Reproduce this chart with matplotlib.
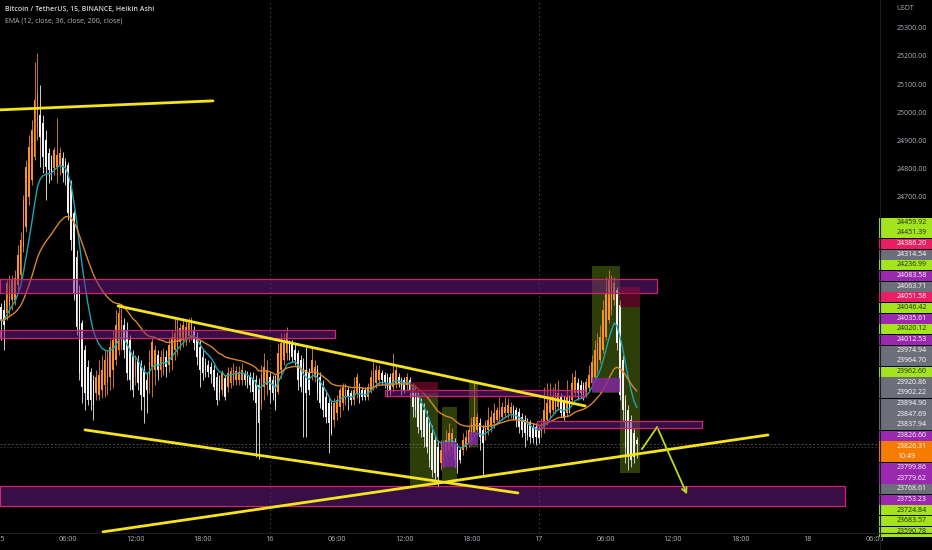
import matplotlib
matplotlib.use("Agg")
import matplotlib.pyplot as plt
from matplotlib.patches import Rectangle
from matplotlib.transforms import blended_transform_factory
import numpy as np
import pandas as pd

# ---------------- data (15-min Heikin Ashi bars, bar 0 = 15th 00:00) ----------------
ha_open = [
    24312, 24302, 24291, 24320, 24337, 24337, 24391, 24426, 24525, 24596,
    24703, 24763, 24845, 24930, 24994, 24966, 24905, 24859, 24834, 24806,
    24809, 24817, 24841, 24827, 24817, 24746, 24646, 24490, 24373, 24256,
    24160, 24099, 24082, 24053, 24007, 24000, 24018, 24036, 24043, 24064,
    24089, 24124, 24160, 24178, 24249, 24231, 24195, 24142, 24064, 24124,
    24107, 24089, 24053, 24071, 24099, 24089, 24142, 24089, 24099, 24135,
    24107, 24124, 24160, 24170, 24188, 24195, 24202, 24209, 24220, 24231,
    24206, 24170, 24135, 24114, 24107, 24099, 24089, 24064, 24053, 24018,
    24060, 24028, 24043, 24053, 24053, 24053, 24053, 24078, 24071, 24064,
    24060, 24053, 24036, 23968, 24028, 24036, 24064, 24053, 24053, 24010,
    24089, 24124, 24149, 24185, 24185, 24160, 24149, 24124, 24114, 24089,
    24078, 24078, 24064, 24089, 24064, 24028, 23993, 23972, 23957, 23911,
    23936, 23957, 23972, 23982, 24018, 24007, 23982, 24007, 24028, 24018,
    24018, 23993, 24018, 24028, 24043, 24053, 24078, 24071, 24064, 24064,
    24028, 24043, 24064, 24053, 24053, 24036, 24053, 24028, 24018, 23993,
    23972, 23947, 23922, 23901, 23865, 23840, 23815, 23759, 23769, 23794,
    23805, 23815, 23830, 23815, 23805, 23805, 23815, 23830, 23840, 23865,
    23876, 23901, 23876, 23865, 23876, 23886, 23901, 23911, 23922, 23922,
    23936, 23936, 23936, 23947, 23947, 23940, 23922, 23911, 23901, 23901,
    23886, 23886, 23876, 23865, 23886, 23911, 23936, 23947, 23950, 23957,
    23993, 23982, 23936, 23982, 23982, 24007, 24043, 24036, 24036, 24011,
    24025, 24043, 24064, 24089, 24124, 24160, 24206, 24266, 24302, 24337,
    24373, 24320, 24124, 23982, 23947, 23911, 23865, 23840,
]
ha_close = [
    24266, 24249, 24398, 24391, 24408, 24415, 24497, 24550, 24692, 24809,
    24880, 24941, 25047, 25072, 24916, 24845, 24809, 24799, 24788, 24870,
    24852, 24859, 24788, 24781, 24646, 24550, 24362, 24241, 24078, 24028,
    24007, 23982, 23982, 23964, 24064, 24071, 24089, 24124, 24135, 24170,
    24195, 24249, 24291, 24266, 24160, 24078, 24053, 24018, 24114, 24043,
    24000, 23993, 24018, 24117, 24188, 24160, 24089, 24135, 24149, 24099,
    24178, 24206, 24220, 24231, 24238, 24249, 24241, 24256, 24266, 24185,
    24135, 24089, 24078, 24089, 24082, 24075, 24028, 23982, 24007, 24078,
    23993, 24078, 24085, 24089, 24085, 24082, 24089, 24053, 24046, 24036,
    24011, 23972, 23901, 24071, 24099, 24089, 24018, 24007, 23957, 24150,
    24185, 24195, 24220, 24149, 24135, 24124, 24053, 24028, 23947, 24007,
    24018, 24124, 24099, 24007, 23972, 23947, 23922, 23901, 23865, 23972,
    23982, 24018, 24028, 24018, 23993, 23982, 24018, 24064, 23993, 23993,
    23993, 24028, 24064, 24078, 24089, 24089, 24053, 24043, 24028, 24018,
    24078, 24089, 24043, 24028, 24018, 24064, 24018, 23957, 23947, 23886,
    23876, 23851, 23815, 23769, 23734, 23723, 23709, 23805, 23830, 23840,
    23865, 23865, 23769, 23759, 23769, 23840, 23851, 23876, 23901, 23922,
    23922, 23851, 23830, 23901, 23911, 23922, 23936, 23947, 23947, 23957,
    23957, 23964, 23957, 23922, 23911, 23886, 23876, 23865, 23858, 23851,
    23847, 23851, 23847, 23901, 23947, 23972, 23982, 23993, 24007, 24007,
    23936, 23922, 23993, 23947, 24043, 24064, 24007, 24007, 24000, 24046,
    24071, 24117, 24160, 24185, 24206, 24302, 24362, 24408, 24408, 24398,
    24185, 24000, 23947, 23815, 23780, 23769, 23780, 23826,
]
ha_high = [
    24327, 24337, 24408, 24426, 24426, 24444, 24533, 24579, 24710, 24834,
    24923, 24976, 25182, 25214, 25101, 24994, 24941, 24877, 24852, 24880,
    24983, 24880, 24863, 24841, 24827, 24763, 24657, 24515, 24391, 24266,
    24178, 24124, 24096, 24071, 24089, 24124, 24142, 24160, 24160, 24195,
    24231, 24302, 24327, 24309, 24273, 24259, 24213, 24160, 24142, 24142,
    24124, 24107, 24082, 24160, 24206, 24178, 24160, 24160, 24167, 24160,
    24202, 24231, 24277, 24277, 24256, 24273, 24266, 24273, 24277, 24245,
    24224, 24195, 24160, 24131, 24124, 24117, 24107, 24082, 24071, 24089,
    24071, 24099, 24099, 24114, 24103, 24103, 24114, 24089, 24085, 24082,
    24082, 24071, 24060, 24107, 24149, 24124, 24082, 24071, 24071, 24185,
    24220, 24220, 24241, 24195, 24195, 24185, 24160, 24142, 24131, 24170,
    24096, 24170, 24124, 24107, 24082, 24053, 24018, 23989, 23982, 23989,
    24000, 24028, 24043, 24043, 24028, 24018, 24064, 24078, 24043, 24028,
    24028, 24043, 24089, 24117, 24107, 24107, 24089, 24082, 24078, 24078,
    24149, 24107, 24078, 24064, 24064, 24078, 24064, 24043, 24036, 24018,
    23989, 23972, 23947, 23918, 23894, 23858, 23840, 23840, 23840, 23876,
    23901, 23883, 23847, 23830, 23815, 23865, 23876, 23886, 23922, 24043,
    23936, 23918, 23894, 23911, 23957, 23947, 23972, 23957, 23993, 23975,
    23993, 23989, 23975, 23964, 23957, 23954, 23936, 23929, 23918, 23911,
    23901, 23901, 23894, 23918, 24028, 24043, 24043, 24028, 24043, 24053,
    24007, 24000, 24053, 24000, 24078, 24089, 24060, 24053, 24046, 24060,
    24107, 24142, 24195, 24220, 24249, 24337, 24419, 24444, 24426, 24419,
    24383, 24337, 24142, 24000, 23964, 23929, 23883, 23851,
]
ha_low = [
    24195, 24160, 24266, 24284, 24302, 24320, 24373, 24401, 24508, 24579,
    24675, 24746, 24834, 24905, 24809, 24788, 24692, 24753, 24763, 24781,
    24753, 24781, 24756, 24746, 24621, 24515, 24337, 24213, 24053, 23972,
    23947, 23964, 23947, 23911, 23982, 23982, 23989, 23993, 24000, 24018,
    24025, 24107, 24142, 24160, 24131, 24053, 24018, 23993, 24036, 24018,
    23947, 23901, 23936, 24007, 23993, 24036, 24053, 24064, 24071, 24064,
    24082, 24089, 24124, 24142, 24160, 24170, 24178, 24188, 24195, 24160,
    24107, 24028, 24053, 24064, 24064, 24043, 24018, 23964, 23982, 24000,
    23982, 24011, 24025, 24036, 24036, 24036, 24036, 24036, 24025, 24011,
    23982, 23780, 23773, 23950, 23982, 24000, 23972, 23982, 23947, 24005,
    24060, 24107, 24124, 24124, 24117, 24107, 24018, 24011, 23851, 23851,
    24000, 24053, 24046, 23982, 23954, 23922, 23901, 23794, 23858, 23886,
    23911, 23922, 23947, 23964, 23947, 23964, 23964, 23989, 23972, 23982,
    23982, 23982, 24007, 24018, 24025, 24036, 24036, 24025, 23993, 24000,
    24011, 24025, 24028, 24000, 24007, 24018, 23993, 23922, 23922, 23865,
    23851, 23815, 23794, 23744, 23709, 23688, 23673, 23734, 23744, 23769,
    23780, 23787, 23744, 23723, 23759, 23787, 23805, 23815, 23823, 23851,
    23858, 23805, 23716, 23840, 23858, 23869, 23883, 23894, 23904, 23911,
    23918, 23918, 23918, 23911, 23886, 23865, 23851, 23815, 23840, 23830,
    23830, 23823, 23830, 23851, 23865, 23894, 23918, 23936, 23936, 23947,
    23922, 23911, 23922, 23936, 23972, 23993, 23982, 23989, 23982, 23993,
    24011, 24036, 24053, 24078, 24114, 24149, 24195, 24256, 24284, 24320,
    24160, 23982, 23911, 23759, 23734, 23744, 23759, 23776,
]
last_price = 23826.31

# time axis
time_ticks = [0, 24, 48, 72, 96, 120, 144, 168, 192, 216, 240, 264, 288, 312]
time_labels = ["15", "06:00", "12:00", "18:00", "16", "06:00", "12:00", "18:00",
               "17", "06:00", "12:00", "18:00", "18", "06:00"]
price_ticks = [25300, 25200, 25100, 25000, 24900, 24800, 24700]

# right-hand price labels (stacked)
label_values = ["24459.92", "24451.39", "24386.20", "24314.54", "24236.99", "24083.58",
                "24063.71", "24051.58", "24046.42", "24035.61", "24020.12", "24012.53",
                "23974.94", "23964.70", "23962.60", "23920.86", "23902.22", "23894.90",
                "23847.69", "23837.94", "23826.60", "23826.31", "23799.86", "23779.62",
                "23768.61", "23753.23", "23724.84", "23683.57", "23590.78"]
label_kinds = ["g", "g", "r", "k", "g", "p", "k", "r", "g", "p", "g", "p",
               "k", "k", "g", "k", "k", "k", "k", "k", "p", "o", "p", "p",
               "k", "p", "g", "g", "g"]
countdown = "10:49"

# drawings: trend lines (bar, price)
trend_lines = [
    ((-0.4, 25012), (75.7, 25044)),
    ((41.8, 24316), (208.6, 23961)),
    ((30.0, 23876), (184.6, 23652)),
    ((36.4, 23514), (273.9, 23858)),
]
arrow_path_x = [228.9, 234.3, 245.4]
arrow_path_y = [23808, 23886, 23638]

# rectangles: (bar0, bar1, price_low, price_high, kind)
rects = [
    (-0.4, 234.3, 24362, 24412, "zone"),
    (-0.4, 119.3, 24202, 24231, "zone"),
    (137.1, 208.6, 23996, 24018, "zone"),
    (191.5, 250.4, 23883, 23908, "zone"),
    (-0.4, 301.4, 23606, 23677, "zone"),
    (211.0, 221.0, 24007, 24458, "green"),
    (211.0, 221.0, 24011, 24060, "purple"),
    (221.0, 228.2, 24312, 24383, "red"),
    (221.0, 228.2, 23723, 24312, "green"),
    (146.0, 156.0, 23680, 24007, "green"),
    (146.0, 156.0, 24007, 24046, "red"),
    (157.5, 162.9, 23698, 23957, "green"),
    (157.5, 162.9, 23744, 23833, "purple"),
    (167.1, 170.4, 23815, 24046, "green"),
    (167.1, 170.4, 23823, 23869, "purple"),
]

# ---------------- styling ----------------
BG = "#000000"
UP = "#f7931e"
DOWN = "#f2f2f2"
TEAL = "#1fa3b4"
EMA_OR = "#d6862b"
YELLOW = "#f4e41c"
ARROW = "#b6dc1f"
TXT = "#b2b5be"
FONT = ["Open Sans", "DejaVu Sans"]
plt.rcParams["font.family"] = FONT

W, H = 932, 550
fig = plt.figure(figsize=(W / 100, H / 100), dpi=100, facecolor=BG)
ax = fig.add_axes([0, 17 / H, 880 / W, 533 / H])
ax.set_facecolor(BG)
ax.set_xlim(-0.36, 313.9)
ax.set_ylim(23510, 25402)
for s in ax.spines.values():
    s.set_visible(False)

o = np.array(ha_open, float)
c = np.array(ha_close, float)
hi = np.array(ha_high, float)
lo = np.array(ha_low, float)
x = np.arange(len(c))
up = c >= o

# day separators and price line
for d in (96, 192):
    ax.axvline(d, color="#3a3d45", lw=0.8, ls=(0, (1.5, 2.5)), zorder=1)
ax.axhline(last_price, color="#5a4a3a", lw=0.8, ls=(0, (1.5, 2)), zorder=1)
ax.axhline(23815, color="#3a3d45", lw=0.7, ls=(0, (1.5, 2)), zorder=1)

# rectangles behind / over candles
styles = {
    "zone": dict(facecolor=(0.45, 0.1, 0.55, 0.5), edgecolor="#d0246e", lw=0.9, zorder=6),
    "green": dict(facecolor=(0.55, 0.75, 0.1, 0.33), edgecolor="none", lw=0, zorder=2),
    "purple": dict(facecolor=(0.52, 0.14, 0.66, 0.8), edgecolor="none", lw=0, zorder=6),
    "red": dict(facecolor=(0.55, 0.05, 0.22, 0.6), edgecolor="none", lw=0, zorder=6),
}
for b0, b1, p0, p1, kind in rects:
    ax.add_patch(Rectangle((b0, p0), b1 - b0, p1 - p0, **styles[kind]))

# candles
wick_cols = np.where(up, "#c8741c", "#cfcfcf")
ax.vlines(x, lo, hi, colors=wick_cols, lw=0.7, zorder=3)
ax.bar(x, np.maximum(np.abs(c - o), 4), bottom=np.minimum(o, c), width=0.62,
       color=np.where(up, UP, DOWN), lw=0, zorder=4)

# EMAs
cs = pd.Series(c)
ax.plot(x, cs.ewm(span=12, adjust=False).mean(), color=TEAL, lw=1.0, zorder=5)
ax.plot(x, cs.ewm(span=36, adjust=False).mean(), color=EMA_OR, lw=1.0, zorder=5)

# trend lines
for (x0, y0), (x1, y1) in trend_lines:
    ax.plot([x0, x1], [y0, y1], color=YELLOW, lw=2.0, solid_capstyle="round", zorder=7)

# projection arrow
ax.plot(arrow_path_x[:2], arrow_path_y[:2], color=ARROW, lw=1.3, zorder=7)
ax.annotate("", xy=(arrow_path_x[2], arrow_path_y[2]), xytext=(arrow_path_x[1], arrow_path_y[1]),
            arrowprops=dict(arrowstyle="->", color=ARROW, lw=1.3, mutation_scale=9), zorder=7)

# time axis
ax.set_yticks([])
ax.set_xticks(time_ticks)
ax.set_xticklabels(time_labels)
ax.tick_params(axis="x", length=0, pad=2.5, labelsize=5.2, labelcolor=TXT)

# price axis text
tr = blended_transform_factory(ax.transAxes, ax.transData)
for v in price_ticks:
    ax.text(897 / 880, v, f"{v:.2f}", transform=tr, color=TXT, fontsize=5.0,
            ha="left", va="center", clip_on=False)
fig.text(896 / W, 1 - 9 / H, "USDT", color=TXT, fontsize=5.0, ha="left", va="center")

# axis separators
fig.add_artist(plt.Line2D([880 / W, 880 / W], [0, 1], color="#1c1e24", lw=0.8))
fig.add_artist(plt.Line2D([0, 1], [17 / H, 17 / H], color="#1c1e24", lw=0.8))

# legend text
fig.text(5 / W, 1 - 10 / H, "Bitcoin / TetherUS, 15, BINANCE, Heikin Ashi", color="#d1d4dc",
         fontsize=5.0, fontweight="semibold", ha="left", va="center")
fig.text(5 / W, 1 - 21.5 / H, "EMA (12, close, 36, close, 200, close)", color="#b2b5be",
         fontsize=5.0, ha="left", va="center")

# stacked price labels
kind_col = {"g": ("#a4e41d", "#1b2a05"), "r": ("#e91e63", "#ffffff"), "k": ("#6c6f79", "#ffffff"),
            "p": ("#9c27b0", "#ffffff"), "o": ("#f57c00", "#ffffff")}
slot = 10.66
ytop = 217.0
k = 0
for val, kind in zip(label_values, label_kinds):
    bg, fg = kind_col[kind]
    nslots = 2 if kind == "o" else 1
    y0 = ytop + k * slot
    hgt = nslots * slot
    fig.add_artist(Rectangle((879 / W, 1 - (y0 + hgt) / H), 53 / W, (hgt - 0.6) / H,
                             transform=fig.transFigure, facecolor=bg, edgecolor="none"))
    if kind == "o":
        fig.text(897 / W, 1 - (y0 + slot / 2) / H, val, color=fg, fontsize=5.0, ha="left", va="center")
        fig.text(897 / W, 1 - (y0 + slot * 1.5) / H, countdown, color=fg, fontsize=5.0, ha="left", va="center")
    else:
        fig.text(897 / W, 1 - (y0 + slot / 2) / H, val, color=fg, fontsize=5.0, ha="left", va="center")
    k += nslots

fig.savefig("out.png", dpi=100, facecolor=BG)
